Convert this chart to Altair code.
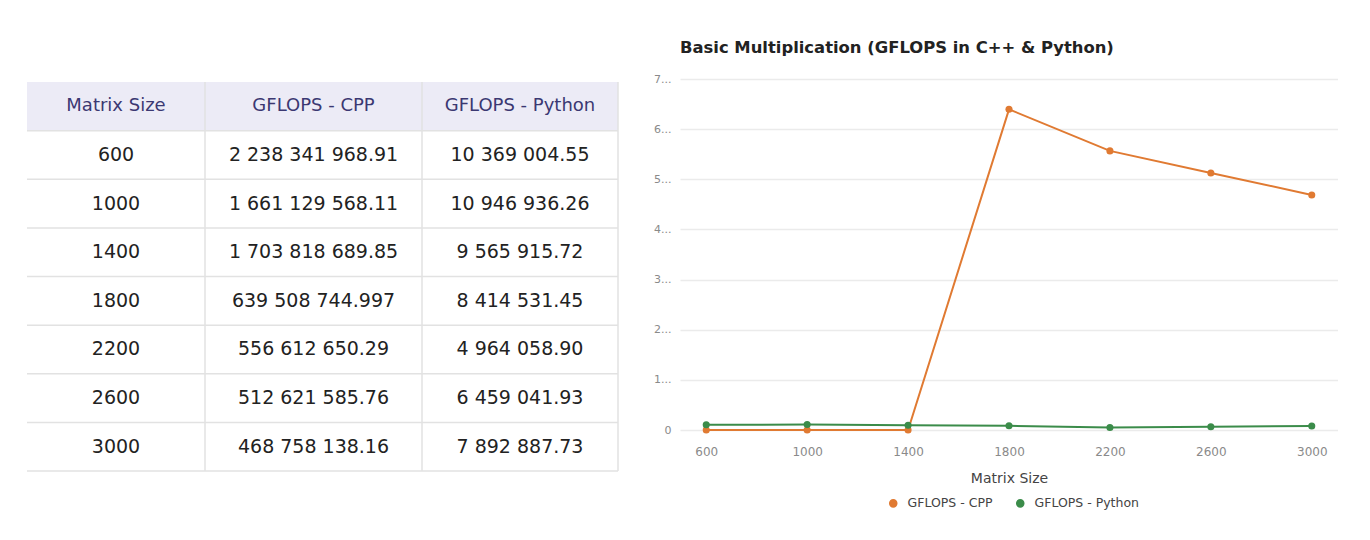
import altair as alt
import pandas as pd

# ---- data ----
matrix_sizes = [600, 1000, 1400, 1800, 2200, 2600, 3000]
headers = ["Matrix Size", "GFLOPS - CPP", "GFLOPS - Python"]
cpp_text = ["2 238 341 968.91", "1 661 129 568.11", "1 703 818 689.85", "639 508 744.997",
            "556 612 650.29", "512 621 585.76", "468 758 138.16"]
python_text = ["10 369 004.55", "10 946 936.26", "9 565 915.72", "8 414 531.45",
               "4 964 058.90", "6 459 041.93", "7 892 887.73"]
# values as drawn in the chart (first three C++ points sit on zero)
cpp_plotted = [2, 1, 1, 639508744.997, 556612650.29, 512621585.76, 468758138.16]
python_plotted = [10369004.55, 10946936.26, 9565915.72, 8414531.45, 4964058.90, 6459041.93, 7892887.73]
y_ticks = [0, 100000000, 200000000, 300000000, 400000000, 500000000, 600000000, 700000000]
series_names = ["GFLOPS - CPP", "GFLOPS - Python"]

# ---- layout / style ----
FONT = "DejaVu Sans"
col_edges = [0, 178, 395, 591]
ROW_H = 48.625
TOP_GAP = 3  # table starts slightly below the line chart's plot top
TABLE_W, TABLE_H = 591, 389 + TOP_GAP
n_rows = len(matrix_sizes) + 1

cells = []
for r in range(n_rows):
    if r == 0:
        vals = headers
    else:
        vals = [str(matrix_sizes[r - 1]), cpp_text[r - 1], python_text[r - 1]]
    for c in range(3):
        cells.append({"row": r, "top": r, "bottom": r + 1, "mid": r + 0.5,
                      "x0": col_edges[c], "x1": col_edges[c + 1],
                      "xm": (col_edges[c] + col_edges[c + 1]) / 2,
                      "text": vals[c], "header": r == 0})
cells_df = pd.DataFrame(cells)
row_df = pd.DataFrame({"bottom": list(range(1, n_rows + 1)), "x0": 0, "x1": col_edges[-1]})
vline_df = pd.DataFrame({"x": col_edges[1:], "y0": 0, "y1": n_rows})

xs = alt.Scale(domain=[0, col_edges[-1]], nice=False, zero=False)
ys = alt.Scale(domain=[n_rows, -TOP_GAP / ROW_H], nice=False, zero=False)

header_bg = alt.Chart(cells_df).transform_filter("datum.header").mark_rect(color="#ecebf6").encode(
    x=alt.X("x0:Q", scale=xs, axis=None), x2="x1:Q",
    y=alt.Y("top:Q", scale=ys, axis=None), y2="bottom:Q")
hlines = alt.Chart(row_df).mark_rule(color="#e2e2e2", strokeWidth=1.5).encode(
    x=alt.X("x0:Q", scale=xs, axis=None), x2="x1:Q",
    y=alt.Y("bottom:Q", scale=ys, axis=None))
vlines = alt.Chart(vline_df).mark_rule(color="#e2e2e2", strokeWidth=1.5).encode(
    x=alt.X("x:Q", scale=xs, axis=None),
    y=alt.Y("y0:Q", scale=ys, axis=None), y2="y1:Q")
body_text = alt.Chart(cells_df).transform_filter("!datum.header").mark_text(
    font=FONT, fontSize=19, color="#222222", align="center", baseline="middle").encode(
    x=alt.X("xm:Q", scale=xs, axis=None), y=alt.Y("mid:Q", scale=ys, axis=None), text="text:N")
head_text = alt.Chart(cells_df).transform_filter("datum.header").mark_text(
    font=FONT, fontSize=18, color="#3b3872", align="center", baseline="middle").encode(
    x=alt.X("xm:Q", scale=xs, axis=None), y=alt.Y("mid:Q", scale=ys, axis=None), text="text:N")

table = alt.layer(header_bg, hlines, vlines, body_text, head_text).properties(
    width=TABLE_W, height=TABLE_H)

# ---- line chart ----
long_rows = []
for i, m in enumerate(matrix_sizes):
    long_rows.append({"Matrix Size": m, "series": series_names[0], "value": cpp_plotted[i]})
    long_rows.append({"Matrix Size": m, "series": series_names[1], "value": python_plotted[i]})
line_df = pd.DataFrame(long_rows)

line = alt.Chart(line_df).mark_line(
    strokeWidth=2, point=alt.OverlayMarkDef(filled=True, size=50, opacity=1)
).encode(
    x=alt.X("Matrix Size:O", scale=alt.Scale(type="point", padding=0.26),
            axis=alt.Axis(title="Matrix Size", labelAngle=0, domain=False, ticks=False,
                          labelPadding=16, labelColor="#8a8a8a", labelFontSize=12,
                          titleFontSize=14, titleFontWeight="normal", titleColor="#444444",
                          titlePadding=14, labelFont=FONT, titleFont=FONT, grid=False)),
    y=alt.Y("value:Q", scale=alt.Scale(domain=[0, 700000000], nice=False),
            axis=alt.Axis(title=None, values=y_ticks, domain=False, ticks=False,
                          labelExpr="datum.value == 0 ? '0' : substring(format(datum.value, '.0f'), 0, 1) + '...'",
                          labelColor="#8a8a8a", labelFontSize=11, labelPadding=9,
                          labelFont=FONT, gridColor="#ebebeb", gridWidth=1.5)),
    color=alt.Color("series:N", scale=alt.Scale(domain=series_names, range=["#e07a32", "#3b8c4a"]),
                    legend=alt.Legend(title=None, orient="none", direction="horizontal",
                                      legendX=860, legendY=418,
                                      symbolType="circle", symbolSize=50, labelFontSize=12.5,
                                      labelOffset=8, labelColor="#444444", labelFont=FONT,
                                      columnPadding=20))
).properties(
    width=658, height=351,
    title=alt.TitleParams("Basic Multiplication (GFLOPS in C++ & Python)", anchor="start",
                          frame="group", font=FONT, fontSize=16.4, fontWeight="bold",
                          color="#222222", offset=17)
)

chart = alt.hconcat(table, line, spacing=62, bounds="flush").properties(
    padding={"left": 26, "top": 39, "right": 0, "bottom": 0}
).configure(background="white").configure_view(stroke=None)

chart.save("out.html", embed_options={"renderer": "svg", "actions": False})
